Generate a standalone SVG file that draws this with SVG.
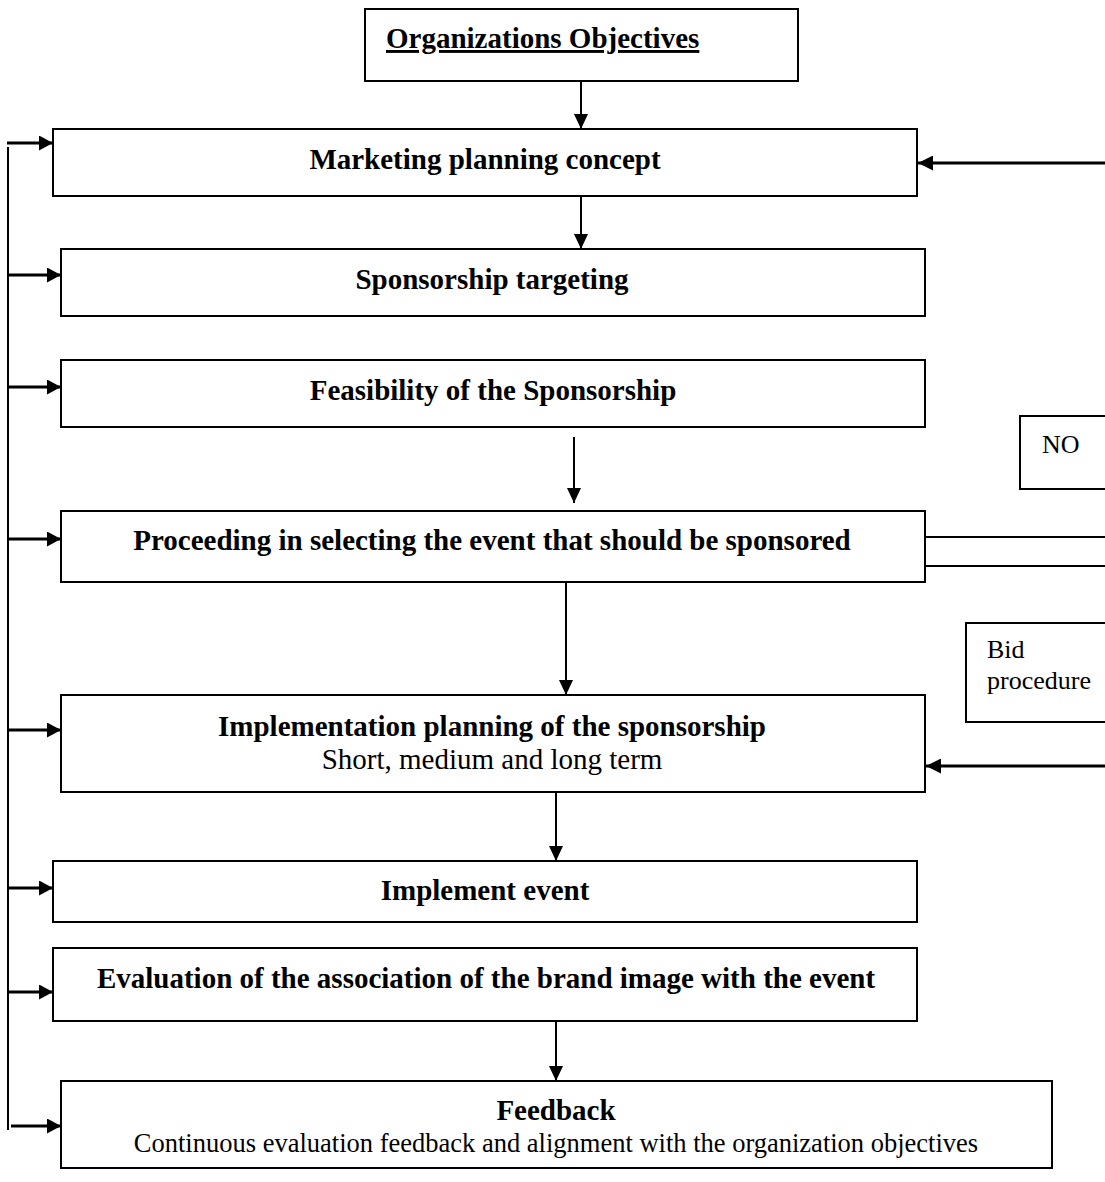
<svg xmlns="http://www.w3.org/2000/svg" width="1105" height="1182" viewBox="0 0 1105 1182">
<style>
.box{fill:#fff;stroke:#000;stroke-width:2}
.t{font-family:"Liberation Serif","Times New Roman",serif;fill:#000}
.b{font-weight:bold;font-size:29px;text-anchor:middle}
.r{font-size:29px;text-anchor:middle}
.s{font-size:26px}
.c{fill:none;stroke:#000}
</style>
<defs>
<marker id="ad" markerUnits="userSpaceOnUse" markerWidth="15" markerHeight="14" refX="15" refY="7" orient="auto"><path d="M0,0 L15,7 L0,14 z" fill="#000"/></marker>
<marker id="al" markerUnits="userSpaceOnUse" markerWidth="14" markerHeight="15" refX="14" refY="7.5" orient="auto"><path d="M0,0 L14,7.5 L0,15 z" fill="#000"/></marker>
<marker id="ar" markerUnits="userSpaceOnUse" markerWidth="15" markerHeight="15" refX="15" refY="7.5" orient="auto"><path d="M0,0 L15,7.5 L0,15 z" fill="#000"/></marker>
</defs>
<g id="connectors">
<line class="c" stroke-width="2" x1="581" y1="81" x2="581" y2="129" marker-end="url(#ad)"/>
<line class="c" stroke-width="2" x1="581" y1="196" x2="581" y2="249" marker-end="url(#ad)"/>
<line class="c" stroke-width="2" x1="574" y1="437" x2="574" y2="503" marker-end="url(#ad)"/>
<line class="c" stroke-width="2" x1="566" y1="582" x2="566" y2="695" marker-end="url(#ad)"/>
<line class="c" stroke-width="2" x1="556" y1="792" x2="556" y2="861" marker-end="url(#ad)"/>
<line class="c" stroke-width="2" x1="556" y1="1021" x2="556" y2="1081" marker-end="url(#ad)"/>
<line class="c" stroke-width="2" x1="8" y1="147" x2="8" y2="1130"/>
<line class="c" stroke-width="3" x1="7" y1="143" x2="53" y2="143" marker-end="url(#al)"/>
<line class="c" stroke-width="3" x1="7" y1="275" x2="61" y2="275" marker-end="url(#al)"/>
<line class="c" stroke-width="3" x1="7" y1="387" x2="61" y2="387" marker-end="url(#al)"/>
<line class="c" stroke-width="3" x1="7" y1="539" x2="61" y2="539" marker-end="url(#al)"/>
<line class="c" stroke-width="3" x1="7" y1="730" x2="61" y2="730" marker-end="url(#al)"/>
<line class="c" stroke-width="3" x1="7" y1="888" x2="53" y2="888" marker-end="url(#al)"/>
<line class="c" stroke-width="3" x1="7" y1="992" x2="53" y2="992" marker-end="url(#al)"/>
<line class="c" stroke-width="3" x1="11" y1="1126" x2="61" y2="1126" marker-end="url(#al)"/>
<line class="c" stroke-width="3" x1="1105" y1="163" x2="918" y2="163" marker-end="url(#ar)"/>
<line class="c" stroke-width="3" x1="1105" y1="766" x2="926" y2="766" marker-end="url(#ar)"/>
<line class="c" stroke-width="2" x1="925" y1="537" x2="1105" y2="537"/>
<line class="c" stroke-width="2" x1="925" y1="566" x2="1105" y2="566"/>
</g>
<g id="n-objectives">
<rect class="box" x="365" y="9" width="433" height="72"/>
<text class="t" x="386" y="48" font-size="29" font-weight="bold" text-decoration="underline">Organizations Objectives</text>
</g>
<g id="n-marketing">
<rect class="box" x="53" y="129" width="864" height="67"/>
<text class="t b" x="485" y="169">Marketing planning concept</text>
</g>
<g id="n-targeting">
<rect class="box" x="61" y="249" width="864" height="67"/>
<text class="t b" x="492" y="289">Sponsorship targeting</text>
</g>
<g id="n-feasibility">
<rect class="box" x="61" y="360" width="864" height="67"/>
<text class="t b" x="493" y="400">Feasibility of the Sponsorship</text>
</g>
<g id="n-proceeding">
<rect class="box" x="61" y="511" width="864" height="71"/>
<text class="t b" x="492" y="550">Proceeding in selecting the event that should be sponsored</text>
</g>
<g id="n-no">
<rect class="box" x="1020" y="416" width="100" height="73"/>
<text class="t s" x="1042" y="453">NO</text>
</g>
<g id="n-bid">
<rect class="box" x="966" y="623" width="150" height="99"/>
<text class="t s" x="987" y="658">Bid</text>
<text class="t s" x="987" y="689">procedure</text>
</g>
<g id="n-implementation">
<rect class="box" x="61" y="695" width="864" height="97"/>
<text class="t b" x="492" y="736">Implementation planning of the sponsorship</text>
<text class="t r" x="492" y="769">Short, medium and long term</text>
</g>
<g id="n-implement">
<rect class="box" x="53" y="861" width="864" height="61"/>
<text class="t b" x="485" y="900">Implement event</text>
</g>
<g id="n-evaluation">
<rect class="box" x="53" y="948" width="864" height="73"/>
<text class="t b" x="486" y="988">Evaluation of the association of the brand image with the event</text>
</g>
<g id="n-feedback">
<rect class="box" x="61" y="1081" width="991" height="87"/>
<text class="t b" x="556" y="1120">Feedback</text>
<text class="t" x="556" y="1152" font-size="26.5" text-anchor="middle">Continuous evaluation feedback and alignment with the organization objectives</text>
</g>
</svg>
